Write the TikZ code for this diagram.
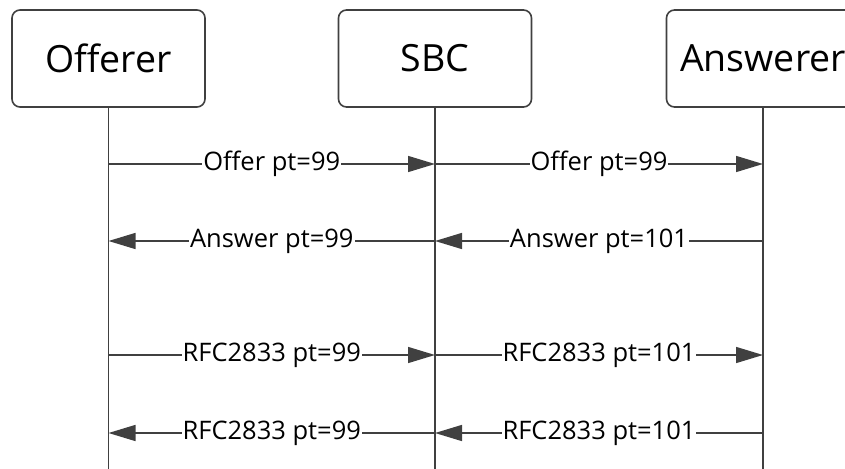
\documentclass[tikz,border=0pt]{standalone}
\usepackage{fontspec}
\setmainfont{Open Sans}
\usetikzlibrary{
    arrows.meta,
    positioning,
    calc
}
\definecolor{linegray}{HTML}{404040}
\tikzset{
    % --- Participant box (rounded, with name) ---
    party/.style = {
        rectangle, draw=linegray, line width=1.6pt,
        rounded corners=8pt,
        minimum width=193pt, minimum height=97pt,
        inner sep=0pt, text=black,
        font=\fontsize{37.5}{42}\selectfont
    },
    % --- Vertical lifeline ---
    lifeline/.style = {
        draw=linegray, line width=1.4pt
    },
    % --- Message arrow ---
    msg arrow/.style = {
        -{Triangle[length=27pt, width=16pt]},
        draw=linegray, line width=1.4pt
    },
    % --- Label sitting on a message ---
    msg label/.style = {
        fill=white, inner sep=1pt, text=black,
        font=\fontsize{25.5}{29}\selectfont
    }
}

\begin{document}
\begin{tikzpicture}[x=1pt, y=-1pt]

\clip (0,0) rectangle (845,468);

% ---------------------------------------------------------
% Participants
% ---------------------------------------------------------
\node[party] (Offerer) at (108.5, 58.5) {Offerer};
\node[party] (SBC) at (435, 58.5) {SBC};
\node[party] (Answerer) at (763, 58.5) {Answerer};

% ---------------------------------------------------------
% Lifelines
% ---------------------------------------------------------
\coordinate (bottom) at (0, 470);
\draw[lifeline] (Offerer.south) -- (Offerer.south |- bottom);
\draw[lifeline] (SBC.south) -- (SBC.south |- bottom);
\draw[lifeline] (Answerer.south) -- (Answerer.south |- bottom);

% ---------------------------------------------------------
% Message rows
% ---------------------------------------------------------
\coordinate (offerRow) at (0, 164);
\coordinate (answerRow) at (0, 241);
\coordinate (dtmfFwdRow) at (0, 355);
\coordinate (dtmfBackRow) at (0, 433);

% Offer
\draw[msg arrow] (Offerer |- offerRow) -- (SBC |- offerRow)
    node[msg label, midway] {Offer pt=99};
\draw[msg arrow] (SBC |- offerRow) -- (Answerer |- offerRow)
    node[msg label, midway] {Offer pt=99};

% Answer
\draw[msg arrow] (SBC |- answerRow) -- (Offerer |- answerRow)
    node[msg label, midway] {Answer pt=99};
\draw[msg arrow] (Answerer |- answerRow) -- (SBC |- answerRow)
    node[msg label, midway] {Answer pt=101};

% RFC2833 forward
\draw[msg arrow] (Offerer |- dtmfFwdRow) -- (SBC |- dtmfFwdRow)
    node[msg label, midway] {RFC2833 pt=99};
\draw[msg arrow] (SBC |- dtmfFwdRow) -- (Answerer |- dtmfFwdRow)
    node[msg label, midway] {RFC2833 pt=101};

% RFC2833 back
\draw[msg arrow] (SBC |- dtmfBackRow) -- (Offerer |- dtmfBackRow)
    node[msg label, midway] {RFC2833 pt=99};
\draw[msg arrow] (Answerer |- dtmfBackRow) -- (SBC |- dtmfBackRow)
    node[msg label, midway] {RFC2833 pt=101};

\end{tikzpicture}
\end{document}
